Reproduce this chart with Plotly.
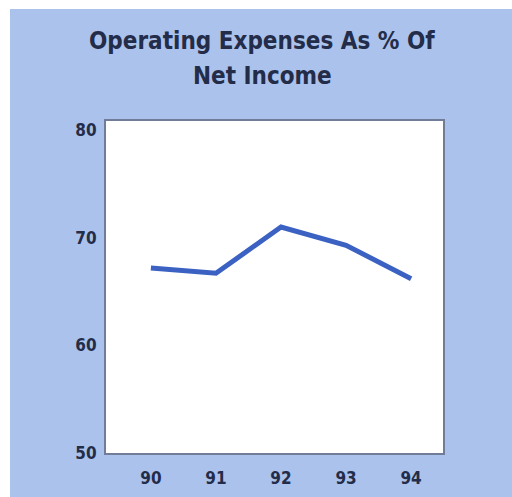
import plotly.graph_objects as go

years = [90, 91, 92, 93, 94]
year_labels = ["90", "91", "92", "93", "94"]
values = [67.2, 66.7, 71.0, 69.3, 66.2]
y_ticks = [50, 60, 70, 80]
title_lines = ["Operating Expenses As % Of", "Net Income"]

W, H = 512, 497
L, R, T, B = 106, 69, 121, 44
pw, ph = W - L - R, H - T - B

BG = "#abc2ec"
TXT = "#232c48"
FONT = "DejaVu Sans Condensed, Liberation Sans Narrow, Arial Narrow, sans-serif"

fig = go.Figure()
fig.add_trace(go.Scatter(
    x=years, y=values, mode="lines",
    line=dict(color="#3b62c2", width=5),
    hoverinfo="skip", showlegend=False,
))

def px_x(p):
    return (p - L) / pw

def px_y(p):
    return (H - B - p) / ph

# white strips on top and left of the page
fig.add_shape(type="rect", xref="paper", yref="paper",
              x0=px_x(-5), x1=px_x(W + 5), y0=px_y(9), y1=px_y(-5),
              fillcolor="white", line=dict(width=0), layer="above")
fig.add_shape(type="rect", xref="paper", yref="paper",
              x0=px_x(-5), x1=px_x(10), y0=px_y(H + 5), y1=px_y(-5),
              fillcolor="white", line=dict(width=0), layer="above")

for line, yc in zip(title_lines, [41, 76]):
    fig.add_annotation(
        text="<b>" + line + "</b>", xref="paper", yref="paper",
        x=px_x(262), y=px_y(yc), xanchor="center", yanchor="middle",
        showarrow=False, font=dict(family=FONT, size=24, color=TXT),
    )

tickfont = dict(family=FONT, size=17, color=TXT, weight="bold")

fig.update_layout(
    width=W, height=H,
    margin=dict(l=L, r=R, t=T, b=B),
    paper_bgcolor=BG,
    plot_bgcolor="white",
    xaxis=dict(
        range=[89.31, 94.49], tickvals=years, ticktext=year_labels,
        showgrid=False, zeroline=False, ticks="", automargin=False,
        showline=True, mirror=True, linecolor="#717d98", linewidth=2,
        tickfont=tickfont, ticklabelstandoff=9,
    ),
    yaxis=dict(
        range=[50, 80.85], tickvals=y_ticks, automargin=False,
        showgrid=False, zeroline=False, ticks="",
        showline=True, mirror=True, linecolor="#717d98", linewidth=2,
        tickfont=tickfont, ticklabelstandoff=4,
    ),
)

fig.write_html("out.html")
